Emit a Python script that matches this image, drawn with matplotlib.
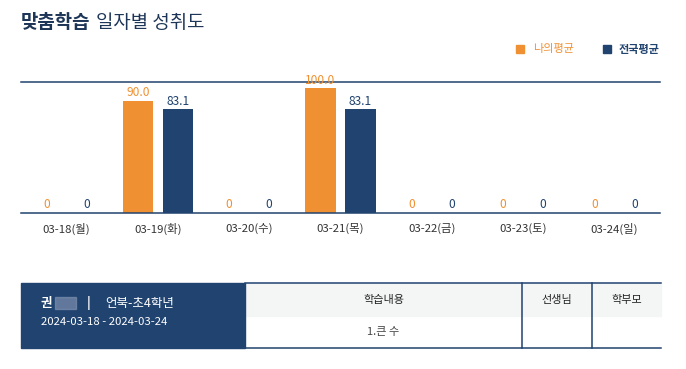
import numpy as np
import matplotlib.pyplot as plt
from matplotlib.patches import Rectangle

plt.rcParams['font.family'] = ['Noto Sans CJK KR', 'DejaVu Sans']

# chart data
dates = ['03-18(월)', '03-19(화)', '03-20(수)', '03-21(목)', '03-22(금)', '03-23(토)', '03-24(일)']
my_avg = [0, 90.0, 0, 100.0, 0, 0, 0]
nat_avg = [0, 83.1, 0, 83.1, 0, 0, 0]
series_names = ['나의평균', '전국평균']

# table data
student = '권'
school = '언북-초4학년'
period = '2024-03-18 - 2024-03-24'
table_headers = ['학습내용', '선생님', '학부모']
table_row = ['1.큰 수', '', '']

ORANGE = '#ef9133'
NAVY = '#20436f'
TITLE = '#1d3557'

W, H = 686, 369
fig = plt.figure(figsize=(W / 100, H / 100), dpi=100)

# background axes in pixel coords for title, legend and table
bg = fig.add_axes([0, 0, 1, 1])
bg.set_xlim(0, W)
bg.set_ylim(H, 0)
bg.axis('off')

bg.text(21, 22, '맞춤학습', fontsize=13.6, fontweight='bold', color=TITLE, va='center')
bg.text(96, 22, '일자별 성취도', fontsize=13.6, color=TITLE, va='center')

# legend
bg.add_patch(Rectangle((516, 45), 8, 8, color=ORANGE))
bg.text(533, 49, series_names[0], fontsize=8, color=ORANGE, va='center')
bg.add_patch(Rectangle((603, 45), 8, 8, color=NAVY))
bg.text(619, 49, series_names[1], fontsize=8, color=NAVY, va='center', fontweight='bold')

# bar chart
ax = fig.add_axes([21 / W, (H - 213) / H, 639 / W, 131 / H])
x = np.arange(len(dates))
off, bw = 0.219, 0.329
ax.bar(x - off, my_avg, bw, color=ORANGE)
ax.bar(x + off, nat_avg, bw, color=NAVY)
for xi, v in zip(x, my_avg):
    ax.text(xi - off, v + 1.2, '0' if v == 0 else f'{v:.1f}', ha='center', va='bottom',
            fontsize=8.6, color=ORANGE)
for xi, v in zip(x, nat_avg):
    ax.text(xi + off, v + 1.2, '0' if v == 0 else f'{v:.1f}', ha='center', va='bottom',
            fontsize=8.6, color=NAVY)
ax.set_xlim(-0.5, len(dates) - 0.5)
ax.set_ylim(0, 104.8)
ax.set_yticks([])
ax.set_xticks(x)
ax.set_xticklabels(dates, fontsize=8.2, color='#333333')
ax.tick_params(axis='x', length=0, pad=7)
for s in ['left', 'right']:
    ax.spines[s].set_visible(False)
for s in ['top', 'bottom']:
    ax.spines[s].set_color(NAVY)
    ax.spines[s].set_linewidth(1.1)
ax.patch.set_alpha(0)

# table
top, mid, bot = 283, 316, 348
left, split, c1, c2, right = 21, 245, 522, 592, 661
bg.add_patch(Rectangle((split, top), right - split, mid - top, color='#f4f6f6', zorder=1))
bg.add_patch(Rectangle((left, top), split - left, bot - top, color=NAVY, zorder=2))
bg.plot([split, right], [top, top], color=NAVY, lw=1.1, zorder=3)
bg.plot([split, right], [bot, bot], color=NAVY, lw=1.1, zorder=3)
bg.plot([c1, c1], [top, bot], color=NAVY, lw=1.1, zorder=3)
bg.plot([c2, c2], [top, bot], color=NAVY, lw=1.1, zorder=3)

bg.text(41, 303, student, fontsize=9, color='white', fontweight='bold', va='center', zorder=4)
bg.add_patch(Rectangle((55, 297), 21, 12, color='#7d90b0', alpha=0.7, zorder=4))
bg.text(89, 303, '|', fontsize=9, color='white', fontweight='bold', va='center', ha='center', zorder=4)
bg.text(105, 303, school, fontsize=9, color='white', va='center', zorder=4)
bg.text(41, 322, period, fontsize=8.2, color='white', va='center', zorder=4)

col_centers = [(split + c1) / 2, (c1 + c2) / 2, (c2 + right) / 2]
for cx, h, r in zip(col_centers, table_headers, table_row):
    bg.text(cx, 300, h, fontsize=8, color='#222222', ha='center', va='center', zorder=4)
    if r:
        bg.text(cx, 332, r, fontsize=8, color='#444444', ha='center', va='center', zorder=4)

fig.savefig('out.png', dpi=100)
